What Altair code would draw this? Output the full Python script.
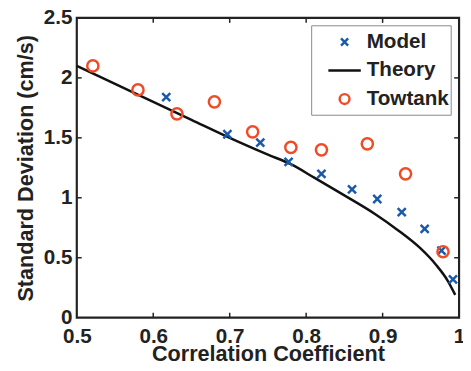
import altair as alt
import pandas as pd

# ---- data ----
series_names = ["Model", "Theory", "Towtank"]
model_x = [0.617, 0.697, 0.740, 0.777, 0.820, 0.860, 0.893, 0.925, 0.955, 0.977, 0.992]
model_y = [1.84, 1.53, 1.46, 1.30, 1.20, 1.07, 0.99, 0.88, 0.74, 0.56, 0.32]
tow_x = [0.521, 0.580, 0.631, 0.680, 0.730, 0.780, 0.820, 0.880, 0.930, 0.979]
tow_y = [2.10, 1.90, 1.70, 1.80, 1.55, 1.42, 1.40, 1.45, 1.20, 0.55]
theory_x = [0.50, 0.55, 0.60, 0.65, 0.70, 0.75, 0.78, 0.81, 0.85, 0.89, 0.92, 0.95, 0.97, 0.985, 0.995]
theory_y = [2.10, 1.95, 1.80, 1.65, 1.50, 1.36, 1.28, 1.17, 1.02, 0.865, 0.73, 0.575, 0.44, 0.31, 0.19]
x_ticks = [0.5, 0.6, 0.7, 0.8, 0.9, 1.0]
y_ticks = [0, 0.5, 1, 1.5, 2, 2.5]
x_inner_ticks = [0.6, 0.7, 0.8, 0.9]
y_inner_ticks = [0.5, 1, 1.5, 2]

FONT = "Liberation Sans"
TXT = "#222222"
W, H = 389, 305

pts = pd.DataFrame({
    "x": model_x + tow_x,
    "y": model_y + tow_y,
    "series": ["Model"] * len(model_x) + ["Towtank"] * len(tow_x),
})
theory = pd.DataFrame({"x": theory_x, "y": theory_y})
xt = pd.DataFrame({"t": x_inner_ticks})
yt = pd.DataFrame({"t": y_inner_ticks})
one = pd.DataFrame({"k": [0]})

xscale = alt.Scale(domain=[0.5, 1.0], nice=False, zero=False)
yscale = alt.Scale(domain=[0, 2.5], nice=False)

xaxis = alt.Axis(values=x_ticks, format="~g", ticks=False, domain=False, grid=False,
                 labelFont=FONT, labelFontSize=21, labelFontWeight="bold", labelColor=TXT,
                 labelPadding=8, labelFlush=False, labelOverlap=False,
                 title="Correlation Coefficient", titleFont=FONT, titleFontSize=22,
                 titleFontWeight="bold", titleColor=TXT, titlePadding=-2)
yaxis = alt.Axis(values=y_ticks, format="~g", ticks=False, domain=False, grid=False,
                 labelFont=FONT, labelFontSize=21, labelFontWeight="bold", labelColor=TXT,
                 labelPadding=5, labelFlush=False, labelOverlap=False,
                 title="Standard Deviation (cm/s)", titleFont=FONT, titleFontSize=22,
                 titleFontWeight="bold", titleColor=TXT, titlePadding=6)

legend = alt.Legend(title=None, orient="none", legendX=239, legendY=7,
                    padding=7, rowPadding=7,
                    symbolOffset=16, labelOffset=12, labelFont=FONT, labelFontSize=21,
                    labelFontWeight="bold", labelColor=TXT, symbolStrokeWidth=2.5)

color_scale = alt.Scale(domain=series_names, range=["#1a5aab", "#111111", "#ef4b26"])
shape_scale = alt.Scale(domain=series_names,
                        range=["M-0.72,-0.72L0.72,0.72M0.72,-0.72L-0.72,0.72",
                               "M-3.3,0L3.3,0",
                               "circle"])

line = alt.Chart(theory).mark_line(color="#111111", strokeWidth=2.5, interpolate="monotone").encode(
    x=alt.X("x:Q", scale=xscale, axis=xaxis),
    y=alt.Y("y:Q", scale=yscale, axis=yaxis),
)

points = alt.Chart(pts).mark_point(filled=False, size=130, strokeWidth=2.5, opacity=1).encode(
    x=alt.X("x:Q", scale=xscale),
    y=alt.Y("y:Q", scale=yscale),
    color=alt.Color("series:N", scale=color_scale, legend=legend),
    shape=alt.Shape("series:N", scale=shape_scale, legend=legend),
)

legend_box = alt.Chart(one).mark_rect(fill="white", stroke="#888888", strokeWidth=1).encode(
    x=alt.value(239), x2=alt.value(381), y=alt.value(8), y2=alt.value(99))

tick_style = dict(color="#222222", strokeWidth=1.5)
xt_bottom = alt.Chart(xt).mark_rule(**tick_style).encode(
    x=alt.X("t:Q", scale=xscale), y=alt.value(H), y2=alt.value(H - 5))
xt_top = alt.Chart(xt).mark_rule(**tick_style).encode(
    x=alt.X("t:Q", scale=xscale), y=alt.value(0), y2=alt.value(5))
yt_left = alt.Chart(yt).mark_rule(**tick_style).encode(
    y=alt.Y("t:Q", scale=yscale), x=alt.value(0), x2=alt.value(5))
yt_right = alt.Chart(yt).mark_rule(**tick_style).encode(
    y=alt.Y("t:Q", scale=yscale), x=alt.value(W - 5), x2=alt.value(W))

chart = alt.layer(xt_bottom, xt_top, yt_left, yt_right, line, legend_box, points).properties(
    width=W, height=H,
    padding={"left": 70, "top": 7, "right": 4, "bottom": 43},
    autosize=alt.AutoSizeParams(type="none"),
).configure_view(stroke="#222222", strokeWidth=2.2)

chart.save("out.html", embed_options={"renderer": "svg", "actions": False})
